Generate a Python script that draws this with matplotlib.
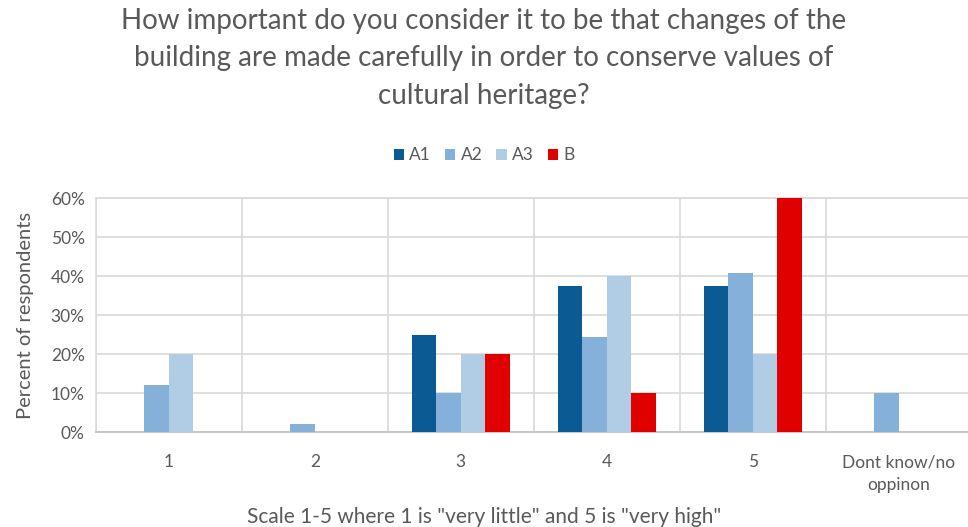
import matplotlib
matplotlib.use("Agg")
import matplotlib.pyplot as plt
import numpy as np
from matplotlib.ticker import PercentFormatter, MultipleLocator

categories = ["1", "2", "3", "4", "5", "Dont know/no\noppinon"]
a1 = [0, 0, 25, 37.5, 37.5, 0]
a2 = [12.2, 2, 10, 24.4, 40.8, 10]
a3 = [20, 0, 20, 40, 20, 0]
b = [0, 0, 20, 10, 60, 0]

series = [("A1", a1, "#0b5a94"), ("A2", a2, "#84b0d9"),
          ("A3", a3, "#b1cde6"), ("B", b, "#e00000")]

plt.rcParams["font.family"] = ["Lato", "DejaVu Sans"]
TXT = "#595959"
GRID = "#d9d9d9"

fig = plt.figure(figsize=(9.68, 5.27), dpi=100)
ax = fig.add_axes([0.099, 0.18, 0.905, 0.444])

x = np.arange(len(categories))
w = 0.168
for i, (name, vals, col) in enumerate(series):
    ax.bar(x + (i - 1.5) * w, vals, w, color=col, label=name, zorder=3)

ax.set_xlim(-0.5, len(categories) - 0.5)
ax.set_ylim(0, 60)
ax.yaxis.set_major_locator(MultipleLocator(10))
ax.yaxis.set_major_formatter(PercentFormatter(decimals=0))
ax.set_xticks(x)
ax.set_xticklabels(categories, linespacing=1.5)
ax.set_xticks(np.arange(-0.5, len(categories), 1), minor=True)
ax.grid(axis="y", color=GRID, lw=1.2, zorder=0)
ax.grid(axis="x", which="minor", color=GRID, lw=1.2, zorder=0)
ax.grid(axis="x", which="major", visible=False)
ax.tick_params(axis="both", which="both", length=0, colors=TXT, labelsize=12.5)
ax.tick_params(axis="x", pad=16)
ax.tick_params(axis="y", pad=8)
for s in ax.spines.values():
    s.set_color(GRID)
    s.set_linewidth(1.2)
ax.spines["bottom"].set_color("#bfbfbf")

ax.set_ylabel("Percent of respondents", fontsize=14.5, color=TXT, labelpad=12)
fig.text(0.5, 0.008, 'Scale 1-5 where 1 is "very little" and 5 is "very high"',
         ha="center", fontsize=15, color=TXT)

fig.text(0.5, 0.985,
         "How important do you consider it to be that changes of the\n"
         "building are made carefully in order to conserve values of\n"
         "cultural heritage?",
         ha="center", va="top", fontsize=20, color=TXT, linespacing=1.55)

fig.legend(loc="center", bbox_to_anchor=(0.5, 0.705), ncol=4, frameon=False,
           fontsize=12.5, handlelength=0.6, handleheight=0.6, handletextpad=0.3,
           columnspacing=0.8, labelcolor=TXT)

fig.savefig("out.png", dpi=100, facecolor="white")
